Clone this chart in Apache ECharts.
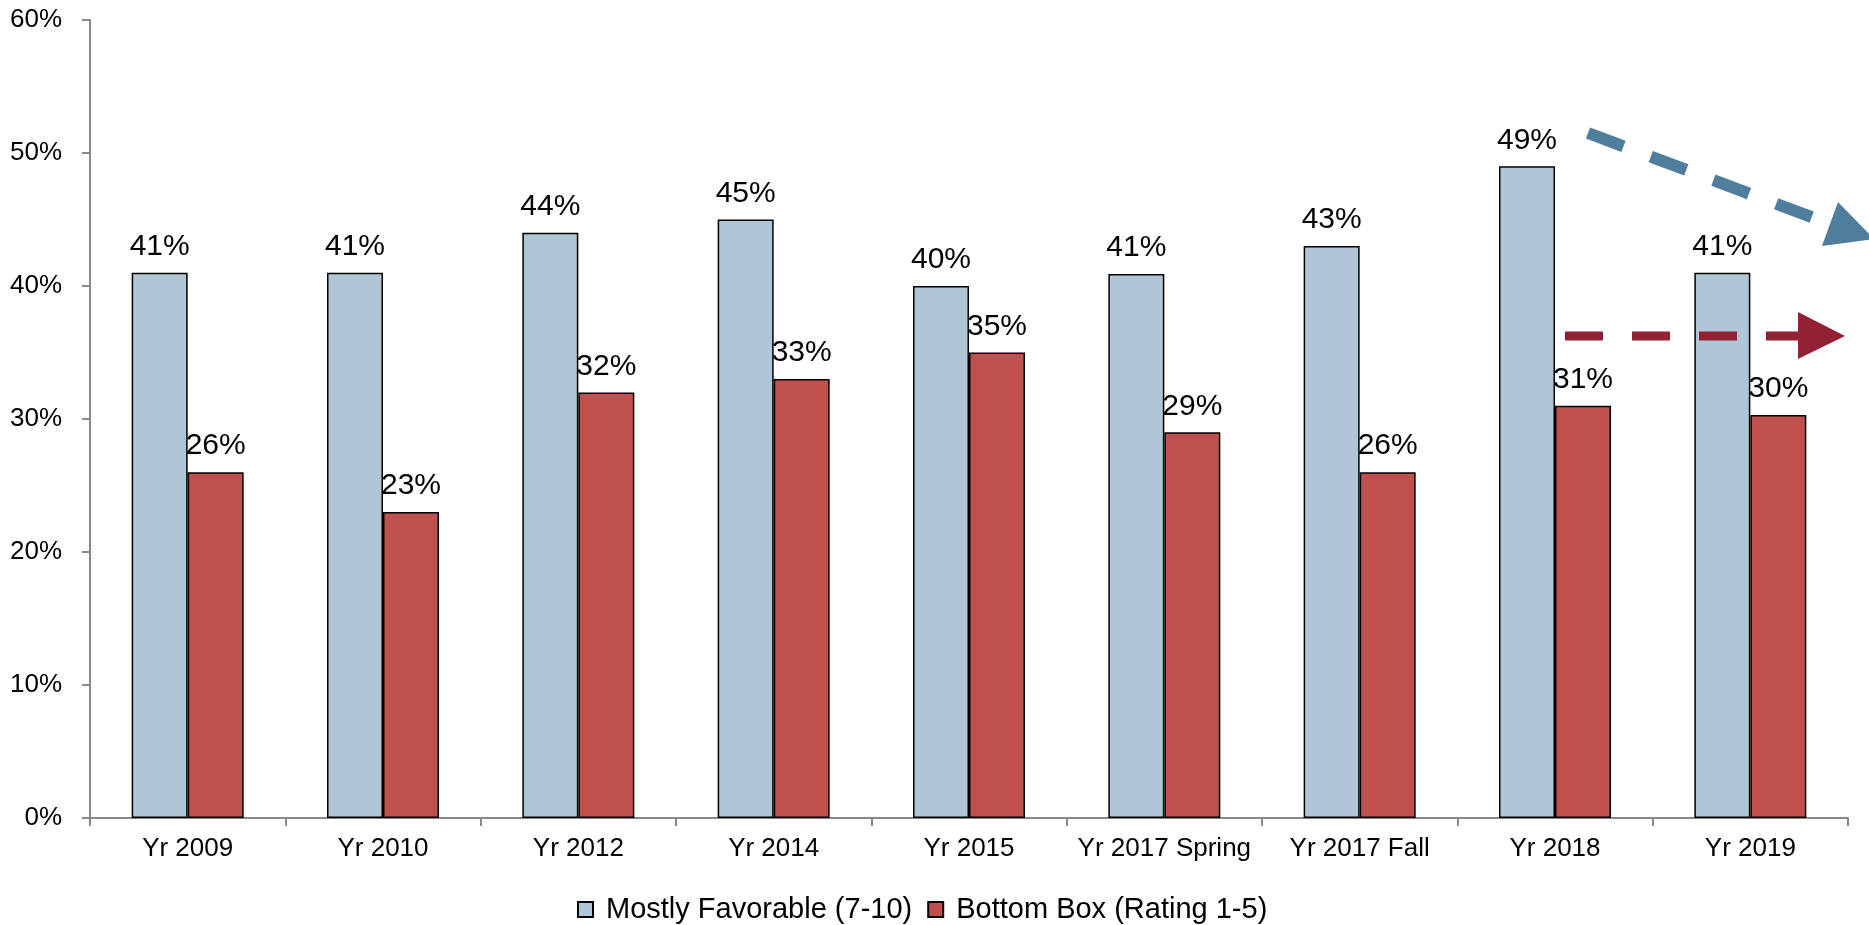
<!DOCTYPE html>
<html>
<head>
<meta charset="utf-8">
<script src="https://cdn.jsdelivr.net/npm/echarts@6/dist/echarts.min.js"></script>
<style>
  html, body { margin: 0; padding: 0; background: #fff; }
  #chart { width: 1869px; height: 925px; }
</style>
</head>
<body>
<div id="chart"></div>
<script>
// categories and values
var categories = ['Yr 2009', 'Yr 2010', 'Yr 2012', 'Yr 2014', 'Yr 2015', 'Yr 2017 Spring', 'Yr 2017 Fall', 'Yr 2018', 'Yr 2019']
var favorable = [41, 41, 44, 45, 40, 40.9, 43, 49, 41]
var bottomBox = [26, 23, 32, 33, 35, 29, 26, 31, 30.3]
var yTicks = [0, 10, 20, 30, 40, 50, 60]

var chart = echarts.init(document.getElementById('chart'))

var font = 'Liberation Sans, Arial, sans-serif'

function barLabel () {
  return {
    show: true,
    position: 'top',
    distance: 11,
    color: '#000',
    fontSize: 30,
    fontFamily: font,
    formatter: function (p) {
      return Math.round(p.value) + '%'
    }
  }
}

var option = {
  animation: false,
  backgroundColor: '#fff',
  grid: {
    left: 90,
    right: 21,
    top: 20,
    bottom: 107
  },
  legend: {
    left: 572,
    top: 890,
    itemWidth: 15,
    itemHeight: 15,
    itemGap: 15,
    icon: 'rect',
    textStyle: {
      fontSize: 29,
      fontFamily: font,
      color: '#000',
      padding: [0, 0, 0, 8]
    },
    data: ['Mostly Favorable (7-10)', 'Bottom Box (Rating 1-5)']
  },
  xAxis: {
    type: 'category',
    data: categories,
    axisLine: { lineStyle: { color: '#888', width: 2 } },
    axisTick: { show: true, length: 8, lineStyle: { color: '#888', width: 2 } },
    axisLabel: {
      color: '#000',
      fontSize: 26,
      fontFamily: font,
      margin: 18,
      interval: 0
    }
  },
  yAxis: {
    type: 'value',
    min: yTicks[0],
    max: yTicks[yTicks.length - 1],
    interval: 10,
    splitLine: { show: false },
    axisLine: { show: true, lineStyle: { color: '#888', width: 2 } },
    axisTick: { show: true, length: 8, lineStyle: { color: '#888', width: 2 } },
    axisLabel: {
      color: '#000',
      fontSize: 26,
      fontFamily: font,
      margin: 28,
      formatter: '{value}%'
    }
  },
  series: [
    {
      name: 'Mostly Favorable (7-10)',
      type: 'bar',
      data: favorable,
      barWidth: 56,
      barGap: '0%',
      itemStyle: { color: '#AFC6D6', borderColor: '#000', borderWidth: 1.5 },
      label: barLabel()
    },
    {
      name: 'Bottom Box (Rating 1-5)',
      type: 'bar',
      data: bottomBox,
      barWidth: 56,
      barGap: '0%',
      itemStyle: { color: '#C0504D', borderColor: '#000', borderWidth: 1.5 },
      label: barLabel()
    }
  ],
  // trend arrows drawn on top
  graphic: [
    {
      type: 'line',
      shape: { x1: 1588, y1: 133, x2: 1830, y2: 224 },
      style: { stroke: '#4F7E9C', lineWidth: 12, lineDash: [38, 29] },
      z: 100
    },
    {
      type: 'polygon',
      shape: { points: [[1838, 202], [1822, 246], [1874, 239]] },
      style: { fill: '#4F7E9C' },
      z: 100
    },
    {
      type: 'line',
      shape: { x1: 1565, y1: 336, x2: 1798, y2: 336 },
      style: { stroke: '#922135', lineWidth: 9, lineDash: [38, 29] },
      z: 100
    },
    {
      type: 'polygon',
      shape: { points: [[1798, 312], [1845, 336], [1798, 359]] },
      style: { fill: '#922135' },
      z: 100
    }
  ]
}

chart.setOption(option)
</script>
</body>
</html>
